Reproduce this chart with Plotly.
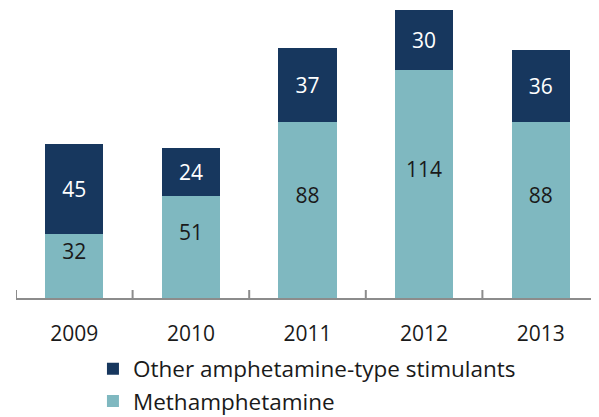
import plotly.graph_objects as go

years = ["2009", "2010", "2011", "2012", "2013"]
meth = [32, 51, 88, 114, 88]
other = [45, 24, 37, 30, 36]

FONT = "Open Sans"
n = len(years)
fig = go.Figure()
fig.add_trace(go.Bar(
    x=years, y=meth, name="Methamphetamine",
    marker=dict(color="#7FB8C0", line=dict(width=0)),
    text=[f"{v}<br><span style='font-size:28px'>&nbsp;</span>" for v in meth],
    textposition="inside", insidetextanchor="middle",
    textangle=0, textfont=dict(color="#1a1a1a", size=21, family=FONT),
))
fig.add_trace(go.Bar(
    x=years, y=other, name="Other amphetamine-type stimulants",
    marker=dict(color="#17375E", line=dict(width=0)),
    text=[str(v) for v in other], textposition="inside", insidetextanchor="middle",
    textangle=0, textfont=dict(color="#ffffff", size=21, family=FONT),
))
fig.update_layout(
    barmode="stack", bargap=0.5,
    width=591, height=409,
    margin=dict(l=8, r=0, t=2, b=119, autoexpand=False),
    paper_bgcolor="white", plot_bgcolor="white",
    font=dict(family=FONT, size=21, color="#1a1a1a"),
    uniformtext=dict(minsize=21, mode="show"),
    xaxis=dict(type="category", showline=True, linecolor="#8c8c8c", linewidth=2,
               ticks="", tickfont=dict(size=21), showgrid=False, tickangle=0,
               automargin=False, ticklabelstandoff=16, range=[-0.5, n - 0.5]),
    yaxis=dict(range=[0, 144], showticklabels=False, showgrid=False, zeroline=False,
               showline=False, ticks=""),
    legend=dict(x=0.132, y=-0.172,
                xanchor="left", yanchor="top", traceorder="reversed",
                font=dict(size=22.5), tracegroupgap=0, bgcolor="rgba(0,0,0,0)"),
    showlegend=True,
)
# category boundary tick marks (Excel-style, pointing up)
for i in range(n + 1):
    fig.add_shape(type="line", xref="x", yref="paper", x0=i - 0.5, x1=i - 0.5,
                  y0=0, y1=8 / 288, line=dict(color="#8c8c8c", width=2), layer="above")
fig.write_html("out.html")
